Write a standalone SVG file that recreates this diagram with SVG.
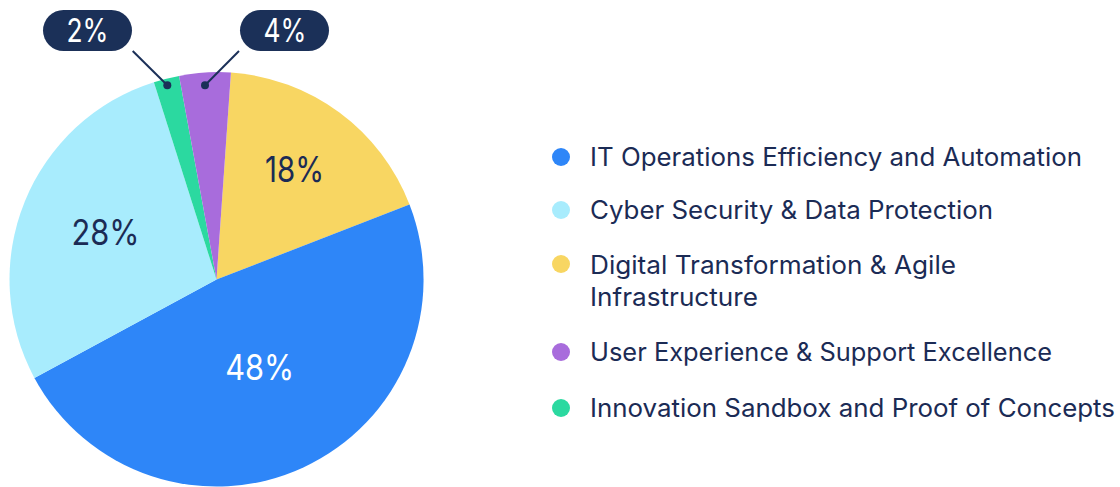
<svg xmlns="http://www.w3.org/2000/svg" width="1120" height="487" viewBox="0 0 1120 487">
<style>
.lbl{font-family:Inter,"Liberation Sans",sans-serif;font-weight:400}
.dark{fill:#1b2b55}
.white{fill:#ffffff}
.leg{font-size:25px}
.pct{font-size:35px;text-anchor:middle}
.pill{fill:#1b3058}
.lead{stroke:#1b3058;stroke-width:2;fill:none}
</style>
<rect width="1120" height="487" fill="#ffffff"/>
<g id="pie">
  <path id="slice-yellow" d="M216.5 279.5 L230.94 72.5 A207 207 0 0 1 409.5 204.6 Z" fill="#f8d662"/>
  <path id="slice-blue" d="M216.5 279.5 L409.5 204.6 A207 207 0 0 1 34.4 377.9 Z" fill="#2e86f8"/>
  <path id="slice-lightblue" d="M216.5 279.5 L34.4 377.9 A207 207 0 0 1 153.9 82.2 Z" fill="#a8ecfd"/>
  <path id="slice-green" d="M216.5 279.5 L153.9 82.2 A207 207 0 0 1 179.1 75.9 Z" fill="#2bd9a0"/>
  <path id="slice-purple" d="M216.5 279.5 L179.1 75.9 A207 207 0 0 1 230.94 72.5 Z" fill="#a86cdc"/>
  <text class="lbl pct dark" x="294.5" y="182" textLength="59" lengthAdjust="spacingAndGlyphs">18%</text>
  <text class="lbl pct dark" x="105.5" y="245" textLength="68" lengthAdjust="spacingAndGlyphs">28%</text>
  <text class="lbl pct white" x="259.7" y="380" textLength="69" lengthAdjust="spacingAndGlyphs">48%</text>
</g>
<g id="connectors">
  <line class="lead" x1="132.7" y1="51" x2="167.3" y2="85.3"/>
  <circle cx="167.3" cy="85.3" r="4" fill="#1b3058"/>
  <line class="lead" x1="239" y1="51" x2="205" y2="85.3"/>
  <circle cx="205" cy="85.3" r="4" fill="#1b3058"/>
</g>
<g id="callout-2">
  <rect class="pill" x="43" y="10" width="89" height="41" rx="20.5"/>
  <text class="lbl white" x="87.5" y="42" font-size="33" text-anchor="middle" textLength="42" lengthAdjust="spacingAndGlyphs">2%</text>
</g>
<g id="callout-4">
  <rect class="pill" x="240" y="10" width="89" height="41" rx="20.5"/>
  <text class="lbl white" x="285" y="42" font-size="33" text-anchor="middle" textLength="43" lengthAdjust="spacingAndGlyphs">4%</text>
</g>
<g id="legend-1">
  <circle cx="561" cy="157" r="9" fill="#2e86f8"/>
  <text class="lbl leg dark" x="590" y="166" textLength="492" lengthAdjust="spacingAndGlyphs">IT Operations Efficiency and Automation</text>
</g>
<g id="legend-2">
  <circle cx="561" cy="210" r="9" fill="#a8ecfd"/>
  <text class="lbl leg dark" x="590" y="219" textLength="403" lengthAdjust="spacingAndGlyphs">Cyber Security &amp; Data Protection</text>
</g>
<g id="legend-3">
  <circle cx="561" cy="264" r="9" fill="#f8d662"/>
  <text class="lbl leg dark" x="590" y="274" textLength="366" lengthAdjust="spacingAndGlyphs">Digital Transformation &amp; Agile</text>
  <text class="lbl leg dark" x="590" y="306" textLength="168" lengthAdjust="spacingAndGlyphs">Infrastructure</text>
</g>
<g id="legend-4">
  <circle cx="561" cy="352" r="9" fill="#a86cdc"/>
  <text class="lbl leg dark" x="590" y="361" textLength="462" lengthAdjust="spacingAndGlyphs">User Experience &amp; Support Excellence</text>
</g>
<g id="legend-5">
  <circle cx="561" cy="408" r="9" fill="#2bd9a0"/>
  <text class="lbl leg dark" x="590" y="417" textLength="525" lengthAdjust="spacingAndGlyphs">Innovation Sandbox and Proof of Concepts</text>
</g>
</svg>
